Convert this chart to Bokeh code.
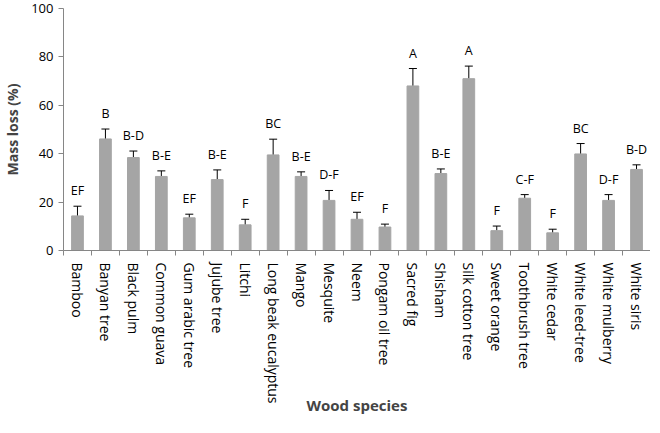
from bokeh.plotting import figure
from bokeh.models import ColumnDataSource, FixedTicker, Whisker, TeeHead, Range1d
from bokeh.core.properties import value
from bokeh.embed import file_html
from bokeh.resources import INLINE

species = ["Bamboo", "Banyan tree", "Black pulm", "Common guava", "Gum arabic tree",
           "Jujube tree", "Litchi", "Long beak eucalyptus", "Mango", "Mesquite", "Neem",
           "Pongam oil tree", "Sacred fig", "Shisham", "Silk cotton tree", "Sweet orange",
           "Toothbrush tree", "White cedar", "White leed-tree", "White mulberry", "White siris"]
mass_loss = [14.3, 46.1, 38.4, 30.6, 13.5, 29.3, 10.6, 39.5, 30.6, 20.7, 12.9,
             9.7, 68.0, 31.8, 71.0, 8.2, 21.6, 7.3, 39.9, 20.7, 33.5]
err_upper = [18.3, 50.2, 41.1, 32.9, 15.0, 33.3, 12.9, 46.0, 32.5, 24.8, 15.8,
             10.9, 75.2, 33.7, 76.2, 10.1, 23.1, 8.8, 44.2, 23.1, 35.4]
groups = ["EF", "B", "B-D", "B-E", "EF", "B-E", "F", "BC", "B-E", "D-F", "EF",
          "F", "A", "B-E", "A", "F", "C-F", "F", "BC", "D-F", "B-D"]
y_ticks = [0, 20, 40, 60, 80, 100]

n = len(species)
xs = [i + 0.5 for i in range(n)]
src = ColumnDataSource(dict(x=xs, y=mass_loss, up=err_upper, g=groups))

FONT = "Open Sans"
AX = "#868686"

p = figure(width=650, height=417, output_backend="svg", toolbar_location=None,
           x_range=Range1d(0, n), y_range=Range1d(0, 100),
           min_border_left=57, min_border_right=0, min_border_top=8, min_border_bottom=150)
p.outline_line_color = None
p.grid.visible = False

p.vbar(x="x", top="y", bottom=0, width=0.42, source=src, color="#A5A5A5")
w = Whisker(base="x", lower="y", upper="up", source=src, line_color="black", line_width=1,
            upper_head=TeeHead(size=8, line_color="black", line_width=1), lower_head=None)
p.add_layout(w)
p.text(x="x", y="up", text="g", source=src, text_align="center", text_baseline="bottom",
       y_offset=-7, text_font=value(FONT), text_font_size="12.5px", text_color="black")

# y axis
p.yaxis.ticker = FixedTicker(ticks=y_ticks)
p.yaxis.axis_line_color = AX
p.yaxis.major_tick_line_color = AX
p.yaxis.major_tick_in = 0
p.yaxis.major_tick_out = 5
p.yaxis.minor_tick_line_color = None
p.yaxis.major_label_text_font = FONT
p.yaxis.major_label_text_font_size = "13px"
p.yaxis.major_label_text_color = "black"
p.yaxis.axis_label = "Mass loss (%)"
p.yaxis.axis_label_text_font = FONT
p.yaxis.axis_label_text_font_style = "bold"
p.yaxis.axis_label_text_font_size = "14px"
p.yaxis.axis_label_standoff = 6

# x axis
p.xaxis.ticker = FixedTicker(ticks=xs, minor_ticks=list(range(n + 1)))
p.xaxis.major_label_overrides = {x: s for x, s in zip(xs, species)}
p.xaxis.major_label_orientation = "vertical"
p.xaxis.axis_line_color = AX
p.xaxis.major_tick_line_color = None
p.xaxis.minor_tick_line_color = AX
p.xaxis.minor_tick_in = 0
p.xaxis.minor_tick_out = 5
p.xaxis.major_label_text_font = FONT
p.xaxis.major_label_text_font_size = "14px"
p.xaxis.major_label_text_color = "black"
p.xaxis.major_label_standoff = 6
p.xaxis.axis_label = "Wood species"
p.xaxis.axis_label_text_font = FONT
p.xaxis.axis_label_text_font_style = "bold"
p.xaxis.axis_label_text_font_size = "15px"
p.xaxis.axis_label_standoff = -12

open("out.html", "w").write(file_html(p, INLINE))
